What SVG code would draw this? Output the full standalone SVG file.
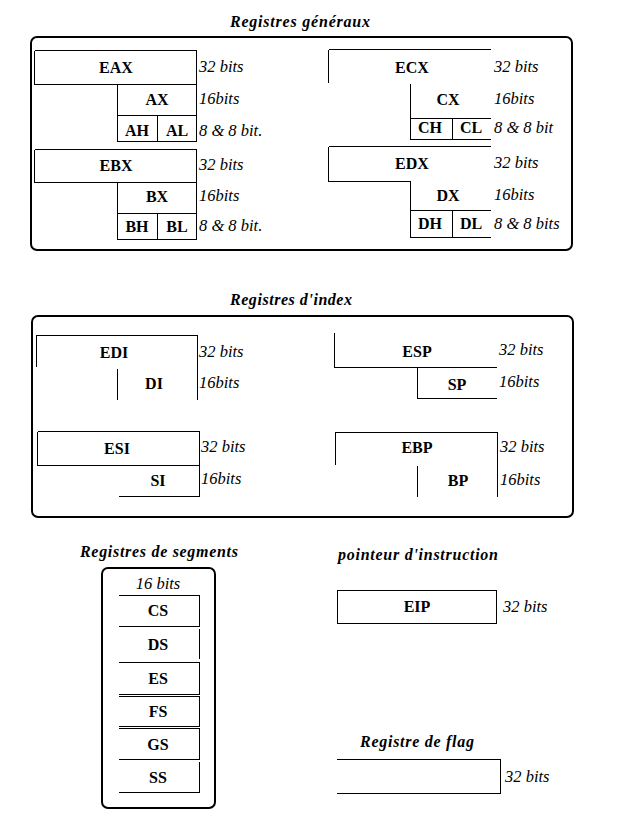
<svg xmlns="http://www.w3.org/2000/svg" width="627" height="836" viewBox="0 0 627 836">
<style>
.frame{fill:none;stroke:#000;stroke-width:2}
.ln{fill:none;stroke:#000;stroke-width:1;shape-rendering:crispEdges}
text{font-family:'Liberation Serif',Times,'Times New Roman','DejaVu Serif',serif;fill:#000}
.r{font-weight:bold;font-size:16px;text-anchor:middle}
.b{font-style:italic;font-size:16.5px}
.t{font-style:italic;font-weight:bold;font-size:16px}
</style>
<rect width="627" height="836" fill="#fff"/>

<g id="section-generaux">
<text class="t" x="230" y="27" textLength="140">Registres généraux</text>
<rect class="frame" x="31" y="37" width="541" height="213" rx="6"/>
</g>

<g id="reg-eax">
<path class="ln" d="M34.5 50.5H196.5V141.5H117.5V84.5 M34.5 50.5V84.5H196.5 M117.5 115.5H196.5 M157.5 115.5V141.5"/>
<text class="r" x="116" y="73">EAX</text>
<text class="r" x="157" y="105">AX</text>
<text class="r" x="137" y="136">AH</text>
<text class="r" x="177" y="136">AL</text>
<text class="b" x="199" y="72">32 bits</text>
<text class="b" x="199" y="104">16bits</text>
<text class="b" x="199" y="136">8 &amp; 8 bit.</text>
</g>

<g id="reg-ecx">
<path class="ln" d="M328.5 49.5H491 M328.5 49.5V83 M410.5 84V139.5H491 M410.5 118.5H491 M452.5 118.5V139.5"/>
<text class="r" x="412" y="73">ECX</text>
<text class="r" x="448" y="105">CX</text>
<text class="r" x="430" y="133">CH</text>
<text class="r" x="471" y="133">CL</text>
<text class="b" x="494" y="72">32 bits</text>
<text class="b" x="494" y="104">16bits</text>
<text class="b" x="494" y="133">8 &amp; 8 bit</text>
</g>

<g id="reg-ebx">
<path class="ln" d="M34.5 149.5H196.5V239.5H117.5V182.5 M34.5 149.5V182.5H196.5 M117.5 213.5H196.5 M157.5 213.5V239.5"/>
<text class="r" x="116" y="171">EBX</text>
<text class="r" x="157" y="202">BX</text>
<text class="r" x="137" y="232">BH</text>
<text class="r" x="177" y="232">BL</text>
<text class="b" x="199" y="170">32 bits</text>
<text class="b" x="199" y="201">16bits</text>
<text class="b" x="199" y="231">8 &amp; 8 bit.</text>
</g>

<g id="reg-edx">
<path class="ln" d="M328.5 146.5H491 M328.5 146.5V181.5H410.5V237.5H491 M410.5 210.5H491 M452.5 210.5V237.5"/>
<text class="r" x="412" y="169">EDX</text>
<text class="r" x="448" y="201">DX</text>
<text class="r" x="430" y="229">DH</text>
<text class="r" x="471" y="229">DL</text>
<text class="b" x="494" y="168">32 bits</text>
<text class="b" x="494" y="200">16bits</text>
<text class="b" x="494" y="229">8 &amp; 8 bits</text>
</g>

<g id="section-index">
<text class="t" x="230" y="305" textLength="122">Registres d'index</text>
<rect class="frame" x="32" y="316" width="541" height="201" rx="6"/>
</g>

<g id="reg-edi">
<path class="ln" d="M36.5 367V335.5H197.5V400 M117.5 369V400"/>
<text class="r" x="114" y="358">EDI</text>
<text class="r" x="154" y="389">DI</text>
<text class="b" x="199" y="357">32 bits</text>
<text class="b" x="199" y="388">16bits</text>
</g>

<g id="reg-esp">
<path class="ln" d="M334.5 333V367.5H497 M417.5 367.5V398.5H497"/>
<text class="r" x="417" y="357">ESP</text>
<text class="r" x="457" y="390">SP</text>
<text class="b" x="499" y="355">32 bits</text>
<text class="b" x="499" y="387">16bits</text>
</g>

<g id="reg-esi">
<path class="ln" d="M37.5 431.5H199.5V496.5H119 M37.5 431.5V465.5H199.5"/>
<text class="r" x="117" y="454">ESI</text>
<text class="r" x="158" y="486">SI</text>
<text class="b" x="201" y="452">32 bits</text>
<text class="b" x="201" y="484">16bits</text>
</g>

<g id="reg-ebp">
<path class="ln" d="M335.5 465V432.5H497.5V497 M417.5 466V497"/>
<text class="r" x="417" y="453">EBP</text>
<text class="r" x="458" y="486">BP</text>
<text class="b" x="500" y="452">32 bits</text>
<text class="b" x="500" y="485">16bits</text>
</g>

<g id="section-segments">
<text class="t" x="80" y="557" textLength="158">Registres de segments</text>
<rect class="frame" x="102" y="568" width="113" height="240" rx="6"/>
<text class="b" x="158" y="589" text-anchor="middle">16 bits</text>
</g>

<g id="reg-segs">
<path class="ln" d="M119 595.5H199.5V626.5H119 M199.5 629V659 M119 662.5H199.5V694.5H119 M119 696.5H199.5V726.5H119 M119 728.5H199.5V759.5H119 M199.5 762V792.5H119"/>
<text class="r" x="158" y="616">CS</text>
<text class="r" x="158" y="650">DS</text>
<text class="r" x="158" y="684">ES</text>
<text class="r" x="158" y="717">FS</text>
<text class="r" x="158" y="750">GS</text>
<text class="r" x="158" y="783">SS</text>
</g>

<g id="reg-eip">
<text class="t" x="338" y="560" textLength="160">pointeur d'instruction</text>
<rect class="ln" x="337.5" y="590.5" width="159" height="33"/>
<text class="r" x="417" y="612">EIP</text>
<text class="b" x="503" y="612">32 bits</text>
</g>

<g id="reg-flag">
<text class="t" x="360" y="747" textLength="114">Registre de flag</text>
<path class="ln" d="M337 759.5H500.5V793.5H337"/>
<text class="b" x="505" y="782">32 bits</text>
</g>
</svg>
